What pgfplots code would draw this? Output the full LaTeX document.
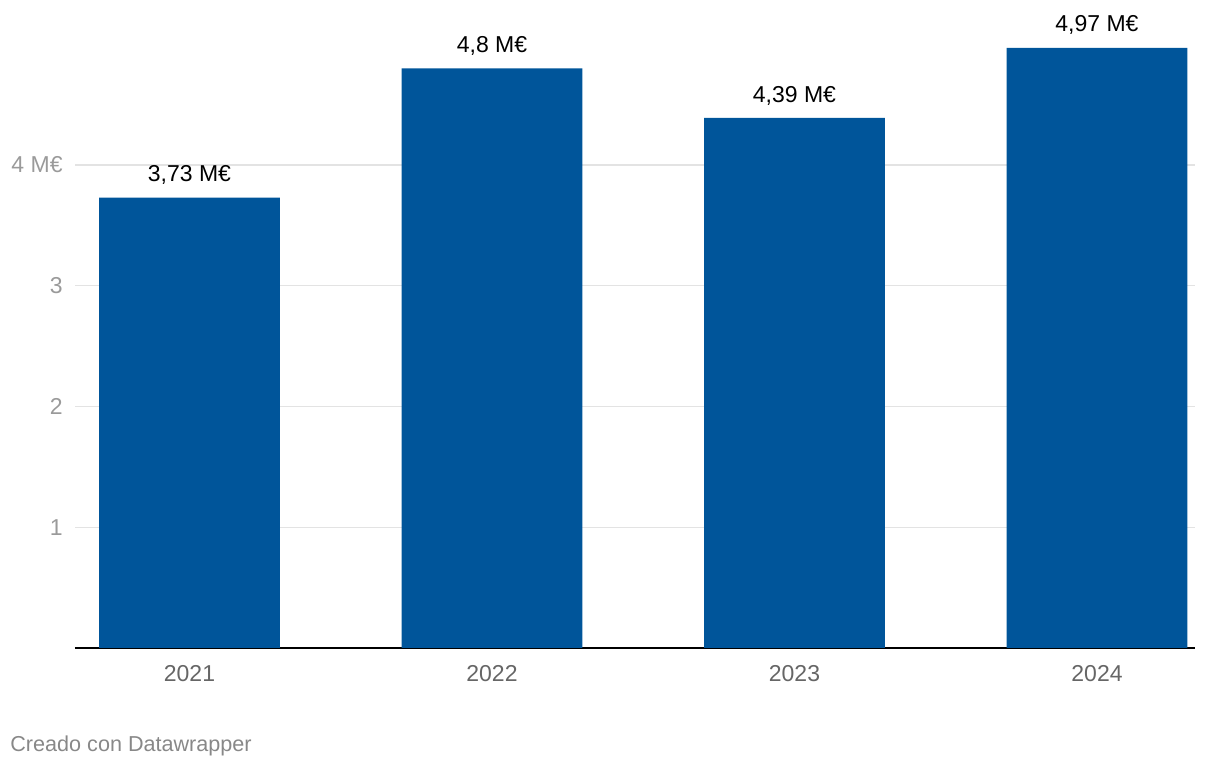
\documentclass[border=0pt]{standalone}
\usepackage{pgfplots}
\pgfplotsset{compat=1.18}
\usepackage{fontspec}
\setmainfont{Liberation Sans}
\definecolor{barblue}{HTML}{00559A}
\definecolor{xlab}{HTML}{666666}
\definecolor{ylab}{HTML}{9A9A9A}
\definecolor{gridc}{HTML}{E3E3E3}
\definecolor{foot}{HTML}{888888}
\begin{document}
\begin{tikzpicture}
\path[use as bounding box] (0,0) rectangle (610pt,385pt);
\begin{axis}[
  at={(37.5pt,61pt)}, anchor=south west,
  scale only axis, width=560pt, height=324pt,
  xmin=-0.3785, xmax=3.324, ymin=0, ymax=5.366,
  axis x line=bottom, axis y line=left,
  y axis line style={draw=none},
  x axis line style={black, line width=0.8pt, -},
  major tick length=0,
  ytick={1,2,3,4}, yticklabels={1,2,3,4 M€},
  ymajorgrids, grid style={color=gridc, line width=0.6pt},
  xtick={0,1,2,3}, xticklabels={2021,2022,2023,2024},
  yticklabel style={anchor=east, inner sep=0pt, xshift=-6pt, text=ylab, font=\fontsize{11.5}{13}\selectfont},
  xticklabel style={anchor=center, yshift=-13pt, text=xlab, font=\fontsize{11.5}{13}\selectfont},
  ybar, bar width=0.598,
  clip=false,
  nodes near coords,
  point meta=explicit symbolic,
  nodes near coords style={anchor=center, yshift=11.2pt, text=black, font=\fontsize{11.5}{13}\selectfont},
]
\addplot[fill=barblue, draw=none] coordinates {
  (0,3.73) [3,73 M€]
  (1,4.80) [4,8 M€]
  (2,4.39) [4,39 M€]
  (3,4.97) [4,97 M€]
};
\end{axis}
\node[anchor=west, inner sep=0pt, text=foot, font=\fontsize{10.8}{12}\selectfont] at (5pt,12pt) {Creado con Datawrapper};
\end{tikzpicture}
\end{document}
